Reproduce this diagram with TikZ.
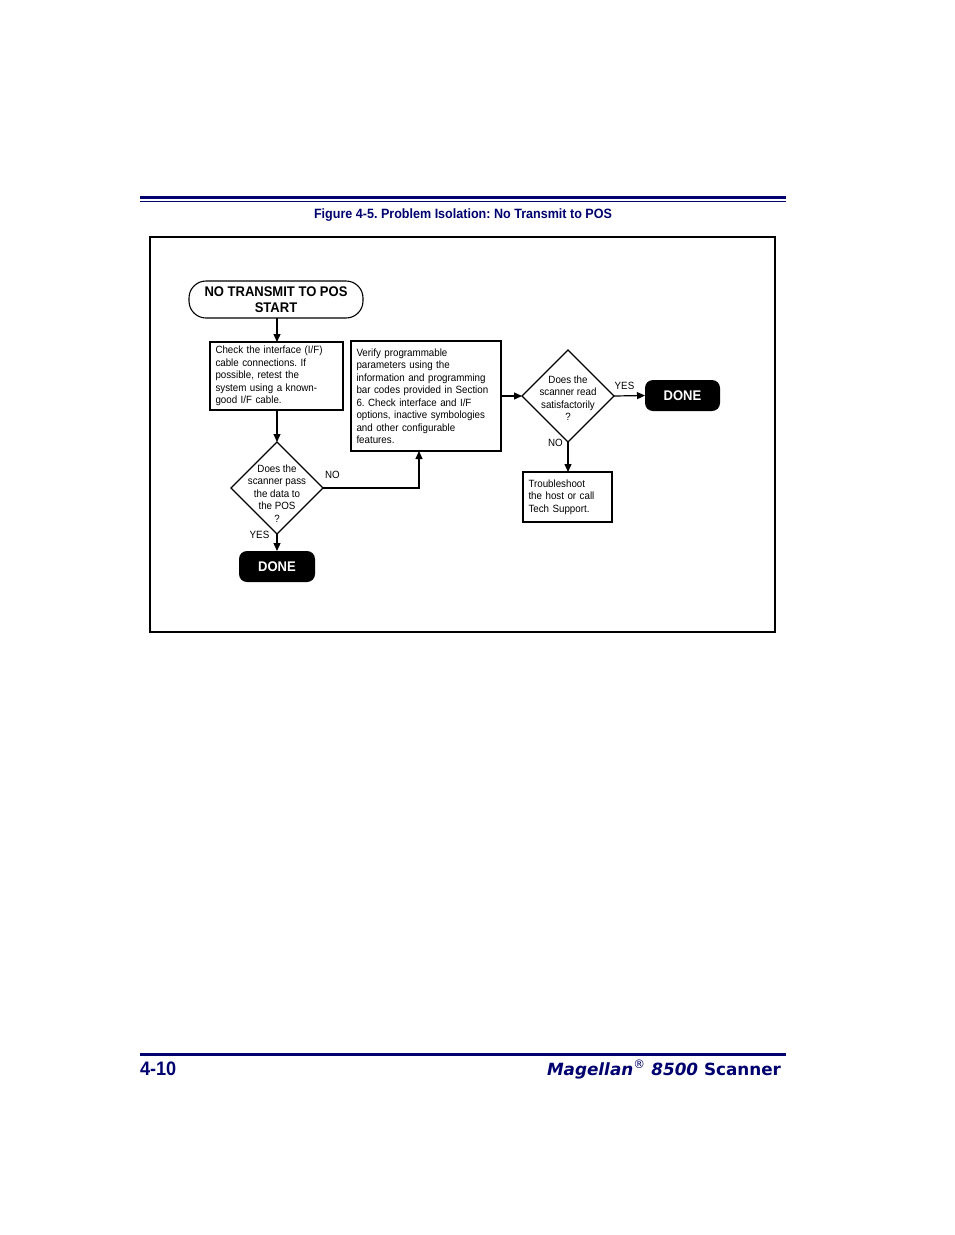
\documentclass[tikz,border=0pt]{standalone}
\usepackage{fontspec}
\setmainfont{Liberation Sans}[FakeStretch=0.93]
\newfontfamily\footfont{DejaVu Sans}
\usetikzlibrary{shapes.geometric,arrows.meta}
\definecolor{navy}{RGB}{0,0,110}
\frenchspacing
\begin{document}
\begin{tikzpicture}[x=1pt,y=-1pt,
  every node/.style={inner sep=0pt,outer sep=0pt},
  conn/.style={line width=1.2pt,-{Triangle[length=8pt,width=7pt]}},
  txtbox/.style={draw,line width=1.1pt,anchor=north west,align=left,font=\fontsize{10.5}{12.5}\selectfont,inner xsep=5.5pt},
  dia/.style={draw,diamond,line width=1.1pt,minimum width=92pt,minimum height=92pt},
  diatext/.style={align=center,font=\fontsize{10.5}{12.5}\selectfont},
  donebox/.style={fill=black,rounded corners=8pt,text=white,font=\fontsize{14}{16}\selectfont\bfseries,minimum width=76pt,minimum height=31pt},
  lbl/.style={font=\fontsize{10.5}{12}\selectfont}
]
\useasboundingbox (0,0) rectangle (954,1235);
% header rules
\fill[navy] (140,196) rectangle (786,199);
\fill[navy] (140,200.6) rectangle (786,202);
\node[text=navy,font=\fontsize{13.5}{15}\selectfont\bfseries] (cap) at (463,215.5) {Figure 4-5. Problem Isolation: No Transmit to POS};
% frame
\draw[line width=1.3pt] (150,237) rectangle (775,632);
% start
\node[draw,line width=1.1pt,rounded corners=17pt,minimum width=174pt,minimum height=37pt,align=center,font=\fontsize{14}{15.5}\selectfont\bfseries] (start) at (276,299.5) {NO TRANSMIT TO POS\\START};
% box1
\node[txtbox,text width=122pt,minimum height=68pt] (b1) at (210,342) {Check the interface (I/F)\\cable connections. If\\possible, retest the\\system using a known-\\good I/F cable.};
% box2
\node[txtbox,text width=139pt,minimum height=110pt] (b2) at (351,341) {Verify programmable\\parameters using the\\information and programming\\bar codes provided in Section\\6. Check interface and I/F\\options, inactive symbologies\\and other configurable\\features.};
% diamond 1
\node[dia] (d1) at (277,488) {};
\node[diatext] (d1t) at (277,493.5) {Does the\\scanner pass\\the data to\\the POS\\?};
% diamond 2
\node[dia] (d2) at (568,396) {};
\node[diatext] (d2t) at (568,398) {Does the\\scanner read\\satisfactorily\\?};
% done nodes
\node[donebox] (done1) at (277,566.5) {DONE};
\node[donebox,minimum width=75pt] (done2) at (682.5,395.5) {DONE};
% box3
\node[txtbox,text width=78pt,minimum height=50pt] (b3) at (523,472) {Troubleshoot\\the host or call\\Tech Support.};
% connectors
\coordinate (b1top) at (277,342);
\coordinate (b1bot) at (277,410);
\coordinate (b2bot) at (419,451);
\draw[conn] (b1top |- start.south) -- (b1top);
\draw[conn] (b1bot) -- (d1.north);
\draw[conn] (d1.east) -| (b2bot);
\draw[conn] (b2.east |- d2.west) -- (d2.west);
\draw[conn] (d2.east) -- (done2.west);
\draw[conn] (d2.south) -- (b3.north -| d2.south);
\draw[conn] (d1.south) -- (done1.north);
% labels
\node[lbl] (lno1) at (332.5,475) {NO};
\node[lbl] (lyes1) at (259.5,535) {YES};
\node[lbl] (lyes2) at (624.5,386) {YES};
\node[lbl] (lno2) at (555.5,443) {NO};
% footer
\fill[navy] (140,1052.5) rectangle (786,1055.5);
\node[anchor=base west,text=navy,font=\fontsize{19.5}{22}\selectfont\bfseries] (pg) at (140,1075) {4-10};
\node[anchor=base east,text=navy,font=\footfont\fontsize{16.8}{18}\selectfont\bfseries] (title) at (781,1075) {\itshape Magellan\textsuperscript{\mdseries\upshape\textregistered} 8500\upshape\ Scanner};
\end{tikzpicture}
\end{document}
